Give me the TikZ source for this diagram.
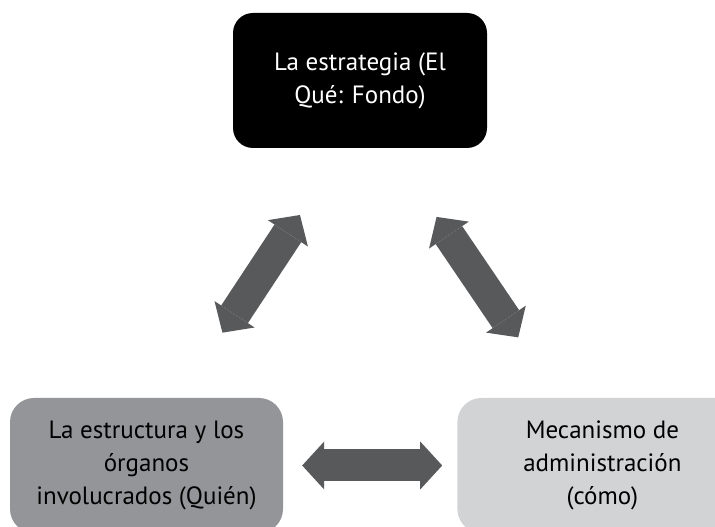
\documentclass[tikz,border=0pt]{standalone}
\usepackage{fontspec}
\setmainfont{PT Sans}
\usepackage{tikz}
\usetikzlibrary{positioning,arrows.meta,calc}
\definecolor{palArrow}{HTML}{58595B}
\definecolor{palGrayMd}{HTML}{939598}
\definecolor{palGrayLt}{HTML}{D1D3D4}
\tikzset{
  boxnode/.style={rounded corners=20pt, minimum width=254pt, minimum height=135pt,
                  align=center, inner sep=0pt, font=\fontsize{25}{33}\selectfont},
  lowbox/.style={boxnode, minimum width=273pt, rounded corners=24pt},
  blockarrow/.style={line width=32pt, draw=palArrow,
                     {Triangle[width=48pt, length=22pt, line width=0pt]}-{Triangle[width=48pt, length=22pt, line width=0pt]}},
}

\begin{document}
\begin{tikzpicture}[x=1pt, y=1pt]
\useasboundingbox (0,0) rectangle (715,527);
\clip (0,0) rectangle (715,527);

%% Boxes
\node[boxnode, fill=black, text=white] (strat) at (360,446.5) {La estrategia (El\\Qué: Fondo)};
\node[lowbox, fill=palGrayMd] (struct) at (146.5,61.5) {La estructura y los\\órganos\\involucrados (Quién)};
\node[lowbox, fill=palGrayLt, minimum width=290pt, right=174pt of struct] (mecha) {Mecanismo de\\administración\\(cómo)};

%% Double arrows
\draw[blockarrow, shorten <=80pt, shorten >=78pt] ([xshift=-16pt]strat.south) -- ([xshift=33pt]struct.north);
\draw[blockarrow, shorten <=83pt, shorten >=73pt] ([xshift=30pt]strat.south) -- ([xshift=102pt]mecha.north west);
\draw[blockarrow, shorten <=19pt, shorten >=15pt] (struct.east) -- (mecha.west);
\end{tikzpicture}
\end{document}
